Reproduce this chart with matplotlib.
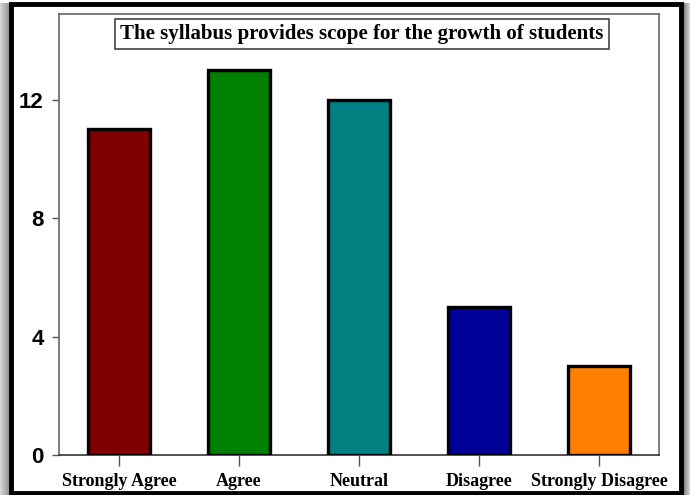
import numpy as np
import matplotlib.pyplot as plt
from matplotlib.patches import Rectangle

categories = ["Strongly Agree", "Agree", "Neutral", "Disagree", "Strongly Disagree"]
counts = [11, 13, 12, 5, 3]
bar_colors = ["#800000", "#008000", "#008080", "#000099", "#FF8000"]
yticks = [0, 4, 8, 12]
title = "The syllabus provides scope for the growth of students"

fig = plt.figure(figsize=(6.9, 4.95), dpi=100)
fig.patch.set_facecolor("white")

# drop-shadow strips on either side of the frame
bg = fig.add_axes([0, 0, 1, 1])
left_grad = np.linspace(0.85, 0.55, 32).reshape(1, -1)
right_grad = np.linspace(0.45, 0.85, 32).reshape(1, -1)
bg.imshow(left_grad, cmap="gray", vmin=0, vmax=1, extent=[0, 10, 495, 3], aspect="auto")
bg.imshow(right_grad, cmap="gray", vmin=0, vmax=1, extent=[683, 690, 495, 3], aspect="auto")
bg.add_patch(Rectangle((11, 4), 670, 489, facecolor="white", edgecolor="black", linewidth=3.5))
bg.set_xlim(0, 690)
bg.set_ylim(495, 0)
bg.axis("off")

ax = fig.add_axes([59 / 690, 40 / 495, 600 / 690, 441 / 495])
x = np.arange(len(categories))
ax.bar(x, counts, width=0.52, color=bar_colors, edgecolor="black", linewidth=2.4, zorder=3)

ax.set_xlim(-0.5, 4.5)
ax.set_ylim(0, 14.9)
ax.set_yticks(yticks)
ax.set_yticklabels([str(v) for v in yticks], fontfamily="Liberation Sans",
                   fontweight="bold", fontsize=16)
ax.set_xticks(x)
ax.set_xticklabels(categories, fontfamily="Liberation Serif", fontweight="bold", fontsize=13)
ax.tick_params(axis="y", length=5, width=1, pad=6, color="#555555")
ax.tick_params(axis="x", length=8, width=1, pad=5, color="#555555")
for side in ["left", "right", "top"]:
    ax.spines[side].set_color("#666666")
    ax.spines[side].set_linewidth(1.2)
ax.spines["bottom"].set_color("#333333")
ax.spines["bottom"].set_linewidth(1.2)

ax.text(0.505, 0.955, title, transform=ax.transAxes, ha="center", va="center",
        fontfamily="Liberation Serif", fontweight="bold", fontsize=15,
        bbox=dict(boxstyle="square,pad=0.25", facecolor="white", edgecolor="#444444", linewidth=1.2))

fig.savefig("out.png", dpi=100)
